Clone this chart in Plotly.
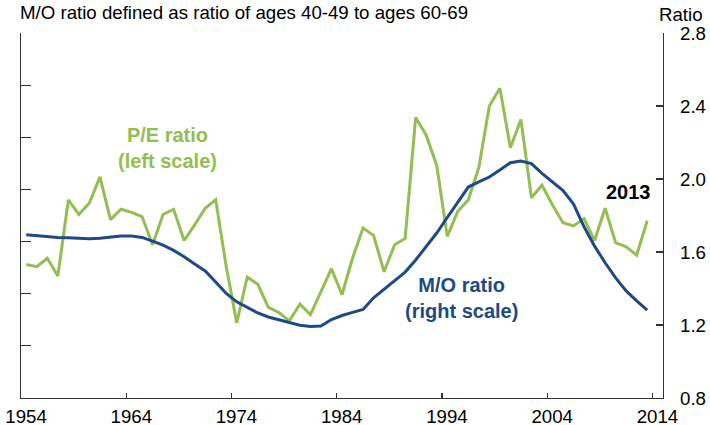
import plotly.graph_objects as go

years = list(range(1954, 2014))

pe_ratio = [
    12.8, 12.6, 13.4, 11.7, 19.0, 17.6, 18.7, 21.2, 17.1, 18.1,
    17.8, 17.4, 14.7, 17.6, 18.1, 15.1, 16.6, 18.2, 19.0, 12.6,
    7.2, 11.6, 10.9, 8.7, 8.2, 7.4, 9.0, 8.0, 10.2, 12.4,
    9.9, 13.4, 16.3, 15.6, 12.1, 14.7, 15.3, 26.9, 25.2, 22.3,
    15.5, 17.9, 19.0, 22.1, 28.0, 29.7, 24.0, 26.7, 19.2, 20.4,
    18.5, 16.8, 16.5, 17.2, 15.1, 18.2, 14.9, 14.5, 13.7, 17.0,
]

mo_ratio = [
    1.694, 1.689, 1.683, 1.680, 1.678, 1.676, 1.672, 1.675, 1.682, 1.687,
    1.687, 1.680, 1.660, 1.638, 1.609, 1.574, 1.534, 1.496, 1.436, 1.373,
    1.327, 1.296, 1.266, 1.244, 1.230, 1.214, 1.199, 1.192, 1.195, 1.230,
    1.252, 1.269, 1.285, 1.349, 1.396, 1.440, 1.490, 1.556, 1.632, 1.704,
    1.789, 1.871, 1.956, 1.984, 2.011, 2.049, 2.089, 2.099, 2.084, 2.031,
    1.985, 1.936, 1.863, 1.738, 1.632, 1.541, 1.458, 1.387, 1.332, 1.281,
]

x_ticks = [1954, 1964, 1974, 1984, 1994, 2004, 2014]
right_ticks = [0.8, 1.2, 1.6, 2.0, 2.4, 2.8]
left_ticks = [0, 5, 10, 15, 20, 25, 30, 35]

GREEN = "#92be52"
BLUE = "#1d4a86"
AXIS = "#333333"
FONT = "Liberation Sans, Arial, sans-serif"
REG = 18.67
BOLD = 20

# points sit in the middle of each year's slot
xpos = [y + 0.5 for y in years]

fig = go.Figure()
fig.add_trace(go.Scatter(x=xpos, y=pe_ratio, mode="lines",
                         line=dict(color=GREEN, width=3), yaxis="y",
                         showlegend=False, hoverinfo="skip"))
fig.add_trace(go.Scatter(x=xpos, y=mo_ratio, mode="lines",
                         line=dict(color=BLUE, width=3), yaxis="y2",
                         showlegend=False, hoverinfo="skip"))

fig.update_layout(
    width=710, height=425,
    margin=dict(l=21, r=47, t=33, b=27, autoexpand=False),
    paper_bgcolor="white", plot_bgcolor="white",
    font=dict(family=FONT, size=REG, color="black"),
    xaxis=dict(range=[1954, 2015], tickvals=x_ticks,
               ticktext=[str(v) for v in x_ticks],
               ticks="inside", ticklen=5, tickwidth=1.2, tickcolor=AXIS,
               showline=True, linecolor=AXIS, linewidth=1.3,
               showgrid=False, zeroline=False, ticklabelshift=5,
               ticklabelstandoff=1, tickfont=dict(size=REG)),
    yaxis=dict(range=[0, 35], tickvals=left_ticks, showticklabels=False,
               ticks="inside", ticklen=10, tickwidth=1.2, tickcolor=AXIS,
               showline=True, linecolor=AXIS, linewidth=1.3,
               showgrid=False, zeroline=False),
    yaxis2=dict(range=[0.8, 2.8], tickvals=right_ticks,
                ticktext=["%.1f" % v for v in right_ticks],
                overlaying="y", side="right",
                ticks="inside", ticklen=7, tickwidth=1.2, tickcolor=AXIS,
                showline=True, linecolor=AXIS, linewidth=1.3,
                showgrid=False, zeroline=False, ticklabelstandoff=12,
                tickfont=dict(size=REG)),
)

fig.add_annotation(text="M/O ratio defined as ratio of ages 40-49 to ages 60-69",
                   xref="paper", yref="paper", x=-0.004, y=1.055,
                   xanchor="left", yanchor="middle", showarrow=False,
                   font=dict(size=REG, color="black"))
fig.add_annotation(text="Ratio", xref="paper", yref="paper", x=1.0654, y=1.052,
                   xanchor="right", yanchor="middle", showarrow=False,
                   font=dict(size=REG, color="black"))
fig.add_annotation(text="<b>P/E ratio<br>(left scale)</b>", xref="x", yref="y2",
                   x=1967.96, y=2.168, showarrow=False,
                   font=dict(size=BOLD, color=GREEN))
fig.add_annotation(text="<b>M/O ratio<br>(right scale)</b>", xref="x", yref="y2",
                   x=1995.85, y=1.346, showarrow=False,
                   font=dict(size=BOLD, color=BLUE))
fig.add_annotation(text="<b>2013</b>", xref="x", yref="y2",
                   x=2011.74, y=1.93, showarrow=False,
                   font=dict(size=BOLD, color="black"))

fig.write_html(
    "out.html",
    config={"displayModeBar": False, "staticPlot": True},
    post_script="document.body.style.margin='0';document.body.style.overflow='hidden';",
)
